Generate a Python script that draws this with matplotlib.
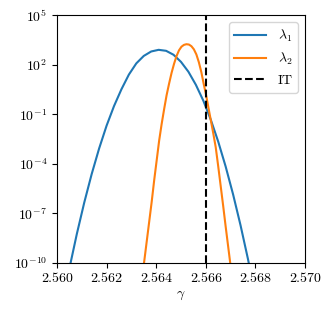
import numpy as np
import matplotlib
matplotlib.use("Agg")
import matplotlib.pyplot as plt
from matplotlib.ticker import FixedLocator, NullLocator, FormatStrFormatter

plt.rcParams['mathtext.fontset'] = 'cm'
plt.rcParams['font.family'] = 'serif'
plt.rcParams['font.serif'] = ['cmr10']
plt.rcParams['axes.formatter.use_mathtext'] = True
plt.rcParams['font.size'] = 10

# Data (y given as log10 values)
x_lambda1 = [2.5605, 2.5608, 2.5611, 2.5614, 2.5617, 2.5620, 2.5623, 2.5626,
             2.5629, 2.5632, 2.5635, 2.5638, 2.5641, 2.5644, 2.5647, 2.5650,
             2.5653, 2.5656, 2.5659, 2.5662, 2.5665, 2.5668, 2.5671, 2.5674,
             2.5677, 2.5680]
log_lambda1 = [-10.36, -8.27, -6.36, -4.63, -3.08, -1.70, -0.51, 0.51,
               1.40, 2.08, 2.53, 2.80, 2.90, 2.84, 2.60, 2.17,
               1.57, 0.78, -0.18, -1.33, -2.66, -4.17, -5.86, -7.73,
               -9.78, -12.02]

x_lambda2 = [2.56345, 2.56352, 2.56362, 2.56372, 2.56382, 2.56392, 2.56402,
             2.56412, 2.56422, 2.56432, 2.56442, 2.56452, 2.56462, 2.56472,
             2.56482, 2.56492, 2.56502, 2.56512, 2.56522, 2.56532, 2.56542,
             2.56552, 2.56562, 2.56572, 2.56582, 2.56592, 2.56600, 2.56610,
             2.56620, 2.56630, 2.56640, 2.56650, 2.56660, 2.56670, 2.56680,
             2.56690, 2.56700]
log_lambda2 = [-10.7, -9.9, -8.7, -7.5, -6.3, -5.0, -3.8,
               -2.6, -1.6, -0.7, 0.15, 0.85, 1.5, 2.05,
               2.52, 2.87, 3.09, 3.2, 3.24, 3.22, 3.12,
               2.93, 2.62, 2.15, 1.55, 0.8, 0.25, -0.55,
               -1.35, -2.15, -3.0, -4.15, -5.35, -6.55, -7.8,
               -9.0, -10.2]

it_x = 2.566
labels = [r'$\lambda_1$', r'$\lambda_2$', 'IT']
xticks = [2.560, 2.562, 2.564, 2.566, 2.568, 2.570]
yticks = [1e-10, 1e-7, 1e-4, 1e-1, 1e2, 1e5]

fig = plt.figure(figsize=(3.33, 3.16), dpi=100)
ax = fig.add_axes([0.171, 0.1687, 0.745, 0.7833])

ax.plot(x_lambda1, 10.0 ** np.array(log_lambda1), color='#1f77b4', lw=1.5, label=labels[0])
ax.plot(x_lambda2, 10.0 ** np.array(log_lambda2), color='#ff7f0e', lw=1.5, label=labels[1])
ax.axvline(it_x, color='black', ls='--', lw=1.5, label=labels[2])

ax.set_yscale('log')
ax.set_xlim(2.560, 2.570)
ax.set_ylim(1e-10, 1e5)
ax.yaxis.set_major_locator(FixedLocator(yticks))
ax.yaxis.set_minor_locator(NullLocator())
ax.xaxis.set_major_locator(FixedLocator(xticks))
ax.xaxis.set_major_formatter(FormatStrFormatter('%.3f'))
ax.set_xlabel(r'$\gamma$')
ax.legend(loc='upper right', handlelength=2.3)

fig.savefig('out.png', dpi=100)
